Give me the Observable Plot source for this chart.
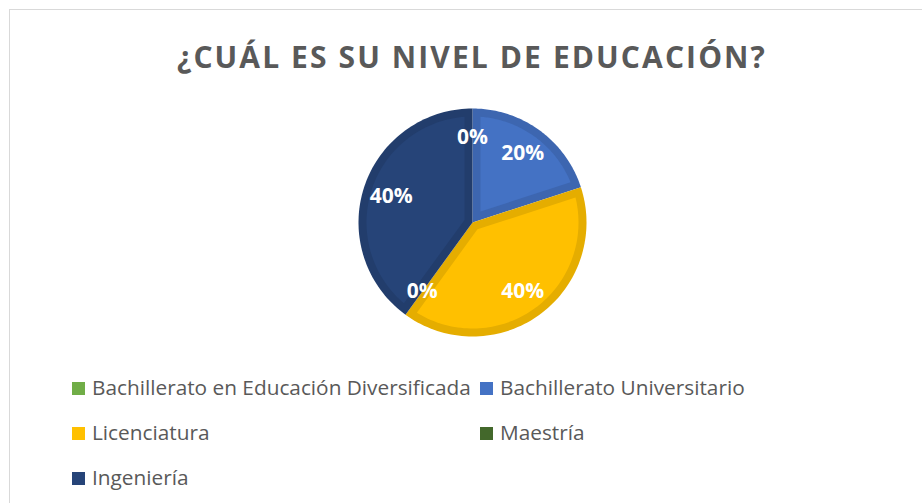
<!DOCTYPE html>
<html><head><meta charset="utf-8">
<script src="https://cdn.jsdelivr.net/npm/d3@7"></script>
<script src="https://cdn.jsdelivr.net/npm/@observablehq/plot@0.6"></script>
<style>
body{margin:0;background:#fff;}
#wrap{position:relative;width:922px;height:503px;overflow:hidden;background:#fff;}
#frame{position:absolute;left:9px;top:9px;width:960px;height:540px;border:1px solid #d9d9d9;box-sizing:border-box;}
#title{position:absolute;left:0;width:944px;top:41.7px;text-align:center;font-family:"Open Sans";font-weight:bold;font-size:30px;line-height:30px;color:#595959;letter-spacing:2.1px;white-space:nowrap;}
#chart{position:absolute;left:0;top:0;}
.legtxt{position:absolute;font-family:"Open Sans";font-size:20.8px;line-height:20px;color:#595959;white-space:nowrap;}
.sw{position:absolute;width:13px;height:13px;}
</style></head>
<body><div id="wrap"><div id="frame"></div><div id="title"></div><div id="chart"></div></div>
<script>
const title = "¿CUÁL ES SU NIVEL DE EDUCACIÓN?";
const categories = ["Bachillerato en Educación Diversificada","Bachillerato Universitario","Licenciatura","Maestría","Ingeniería"];
const values = [0, 20, 40, 0, 40];
const colors = ["#70AD47","#4472C4","#FFC000","#43682B","#264478"];

document.getElementById("title").textContent = title;

const Rpx = 114, cx = 472, cy = 222, borderPx = 8;
const d = borderPx / Rpx;
const total = d3.sum(values);
let acc = 0;
const slices = categories.map((c, i) => {
  const a0 = acc / total * 2 * Math.PI;
  acc += values[i];
  const a1 = acc / total * 2 * Math.PI;
  return {c, v: values[i], a0, a1, i};
});
const darker = c => d3.rgb(c).darker(0.3).formatHex();
const pts = [];
const pt = (a, r) => [r * Math.sin(a), r * Math.cos(a)];
for (const s of slices) {
  if (s.v <= 0) continue;
  const n = 80;
  let key = "o" + s.i;
  pts.push({key, x: 0, y: 0, fill: darker(colors[s.i])});
  for (let k = 0; k <= n; k++) {
    const a = s.a0 + (s.a1 - s.a0) * k / n;
    const [x, y] = pt(a, 1);
    pts.push({key, x, y, fill: darker(colors[s.i])});
  }
  key = "i" + s.i;
  const th = s.a1 - s.a0;
  const mid = (s.a0 + s.a1) / 2;
  const [ax, ay] = pt(mid, d / Math.sin(th / 2));
  pts.push({key, x: ax, y: ay, fill: colors[s.i]});
  const del = Math.asin(d / (1 - d));
  for (let k = 0; k <= n; k++) {
    const a = s.a0 + del + (s.a1 - s.a0 - 2 * del) * k / n;
    const [x, y] = pt(a, 1 - d);
    pts.push({key, x, y, fill: colors[s.i]});
  }
}
const labels = slices.map(s => {
  const mid = (s.a0 + s.a1) / 2;
  const [x, y] = pt(mid, 0.75);
  return {x, y, text: s.v + "%"};
});

const plot = Plot.plot({
  width: 922, height: 360,
  margin: 0,
  x: {domain: [-1, 1], range: [cx - Rpx, cx + Rpx], axis: null},
  y: {domain: [-1, 1], range: [cy + Rpx, cy - Rpx], axis: null},
  color: {type: "identity"},
  marks: [
    Plot.line(pts, {x: "x", y: "y", z: "key", fill: "fill", stroke: "none", curve: "linear-closed"}),
    Plot.text(labels, {x: "x", y: "y", text: "text", fill: "white", fontSize: 21, fontWeight: "bold", fontFamily: "Open Sans"})
  ]
});
plot.style.background = "transparent";
document.getElementById("chart").appendChild(plot);

const wrap = document.getElementById("wrap");
categories.forEach((c, i) => {
  const col = i % 2, row = Math.floor(i / 2);
  const base = 395 + 45 * row;
  const sw = document.createElement("div");
  sw.className = "sw";
  sw.style.left = (col ? 480 : 72) + "px";
  sw.style.top = (base - 13) + "px";
  sw.style.background = colors[i];
  wrap.appendChild(sw);
  const t = document.createElement("div");
  t.className = "legtxt";
  t.style.left = (col ? 500 : 92) + "px";
  t.style.top = (base - 18.1) + "px";
  t.textContent = c;
  wrap.appendChild(t);
});
</script></body></html>
